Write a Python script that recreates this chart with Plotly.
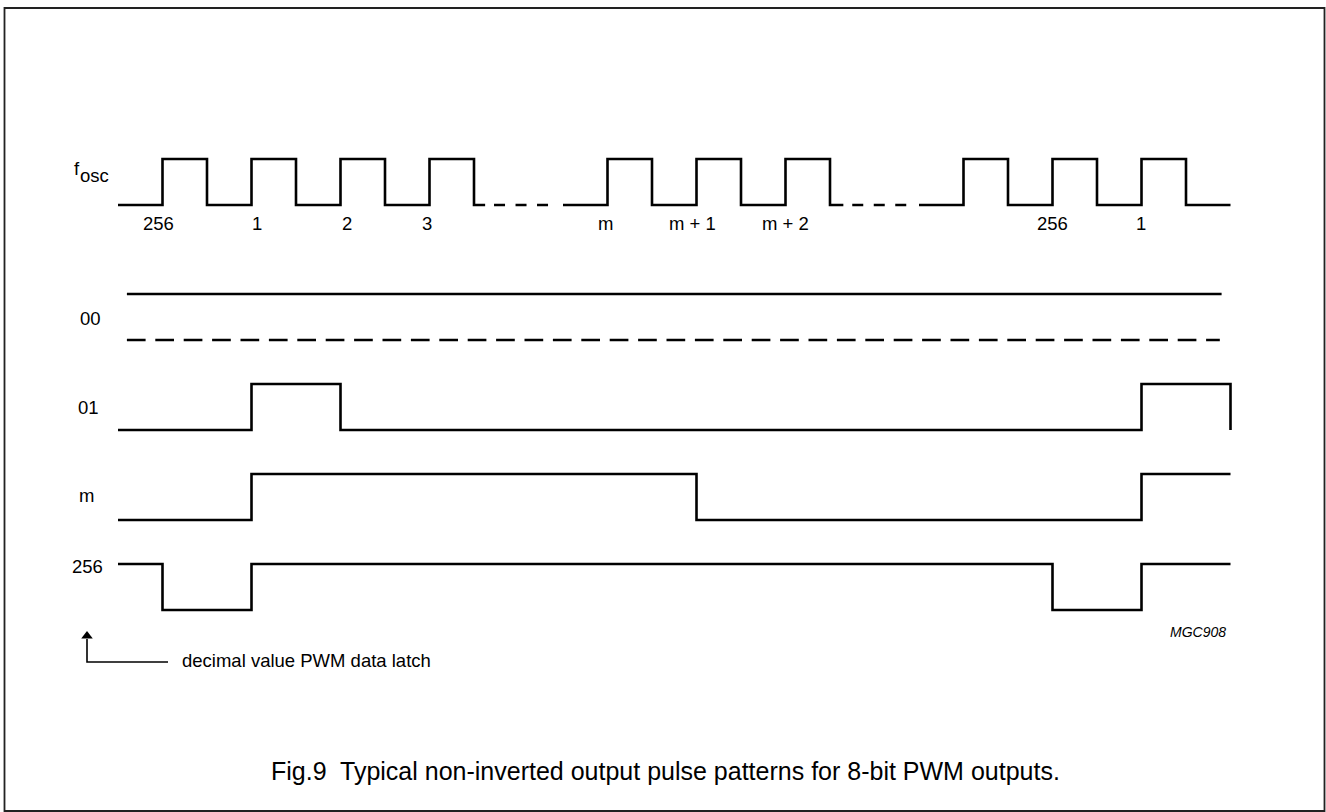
import plotly.graph_objects as go

# ---------------- data (time in half clock periods, logic levels 0/1) -------------
fosc_t = [[0, 1, 2, 3, 4, 5, 6, 7, 8, 8.25],
          [10, 11, 12, 13, 14, 15, 16, 16.3],
          [18, 19, 20, 21, 22, 23, 24, 25]]
fosc_v = [[0, 1, 0, 1, 0, 1, 0, 1, 0, 0],
          [0, 1, 0, 1, 0, 1, 0, 0],
          [0, 1, 0, 1, 0, 1, 0, 0]]
fosc_gaps = [[8.45, 9.75], [16.5, 17.75]]
fosc_labels = ["256", "1", "2", "3", "m", "m + 1", "m + 2", "256", "1"]
fosc_label_t = [0.92, 3.12, 5.14, 6.94, 10.96, 12.92, 15.0, 21.01, 22.99]

row_names = ["00", "01", "m", "256"]
zero_span = [0.2, 24.8]
zero_span_dashed = [0.2, 24.76]
pwm_t = {"01": [0, 3, 5, 23, 25], "m": [0, 3, 13, 23, 25], "256": [0, 1, 3, 21, 23, 25]}
pwm_v = {"01": [0, 1, 0, 1, 0], "m": [0, 1, 0, 1, 1], "256": [1, 0, 1, 0, 1, 1]}

# ---------------- layout constants -------------
W, H = 1326, 812
PX0, PXU = 118.0, 44.5          # pixel of t=0, pixels per half period
ROW_LOW = {"fosc": 205, "00": 340, "01": 430, "m": 520, "256": 610}
AMP = 46
FONT = "Liberation Sans, Arial, sans-serif"
LW = 2.6


def yv(row, vals):
    return [ROW_LOW[row] - AMP * v for v in vals]


def px(x):
    return x / W


def py(y):
    return 1 - y / H


fig = go.Figure()
line = dict(color="black", width=LW)

for t, v in zip(fosc_t, fosc_v):
    fig.add_trace(go.Scatter(x=t, y=yv("fosc", v), mode="lines", line_shape="hv", line=line))
for g in fosc_gaps:
    fig.add_trace(go.Scatter(x=g, y=yv("fosc", [0, 0]), mode="lines",
                             line=dict(color="black", width=LW, dash="11px,10.5px")))

fig.add_trace(go.Scatter(x=zero_span, y=yv("00", [1, 1]), mode="lines", line=line))
fig.add_trace(go.Scatter(x=zero_span_dashed, y=yv("00", [0, 0]), mode="lines",
                         line=dict(color="black", width=LW, dash="18.7px,9.7px")))

for r in ["01", "m", "256"]:
    fig.add_trace(go.Scatter(x=pwm_t[r], y=yv(r, pwm_v[r]), mode="lines", line_shape="hv", line=line))

# arrow pointer (data latch note)
fig.add_trace(go.Scatter(x=[(168 - PX0) / PXU, (87 - PX0) / PXU, (87 - PX0) / PXU],
                         y=[662, 662, 639], mode="lines", line=dict(color="black", width=1.6)))
fig.add_trace(go.Scatter(x=[(87 - PX0) / PXU], y=[636], mode="markers",
                         marker=dict(symbol="triangle-up", size=10, color="black")))

ann = []
lab = dict(family=FONT, size=18.5, color="black")
for txt, t in zip(fosc_labels, fosc_label_t):
    ann.append(dict(x=px(PX0 + PXU * t), y=py(223.5), text=txt, font=lab))
ann.append(dict(x=px(71.5), y=py(168.5), text="f", xanchor="left", font=lab))
ann.append(dict(x=px(78), y=py(175.5), text="osc", xanchor="left", font=lab))
row_lbl_pos = {"00": (90, 319), "01": (88, 407.5), "m": (86, 495), "256": (87, 566.5)}
for r in row_names:
    x, y = row_lbl_pos[r]
    ann.append(dict(x=px(x), y=py(y), text=r, font=lab))
ann.append(dict(x=px(180), y=py(660), text="decimal value PWM data latch", xanchor="left", font=lab))
ann.append(dict(x=px(1228), y=py(632), text="<i>MGC908</i>", xanchor="right",
                font=dict(family=FONT, size=14, color="black")))
ann.append(dict(x=px(665), y=py(771),
                text="Fig.9  Typical non-inverted output pulse patterns for 8-bit PWM outputs.",
                font=dict(family=FONT, size=25, color="black")))
for a in ann:
    a.update(xref="paper", yref="paper", showarrow=False)
    a.setdefault("xanchor", "center")
    a.setdefault("yanchor", "middle")

fig.update_layout(
    width=W, height=H, margin=dict(l=0, r=0, t=0, b=0),
    paper_bgcolor="white", plot_bgcolor="white", showlegend=False,
    xaxis=dict(range=[-PX0 / PXU, (W - PX0) / PXU], visible=False, fixedrange=True),
    yaxis=dict(range=[H, 0], visible=False, fixedrange=True),
    annotations=ann,
    shapes=[dict(type="rect", xref="paper", yref="paper",
                 x0=px(4.5), x1=px(1324.5), y0=py(8), y1=py(811),
                 line=dict(color="#222", width=1.8))],
)
fig.write_html("out.html", config={"displayModeBar": False},
               post_script="document.body.style.margin='0';document.body.style.overflow='hidden';")
